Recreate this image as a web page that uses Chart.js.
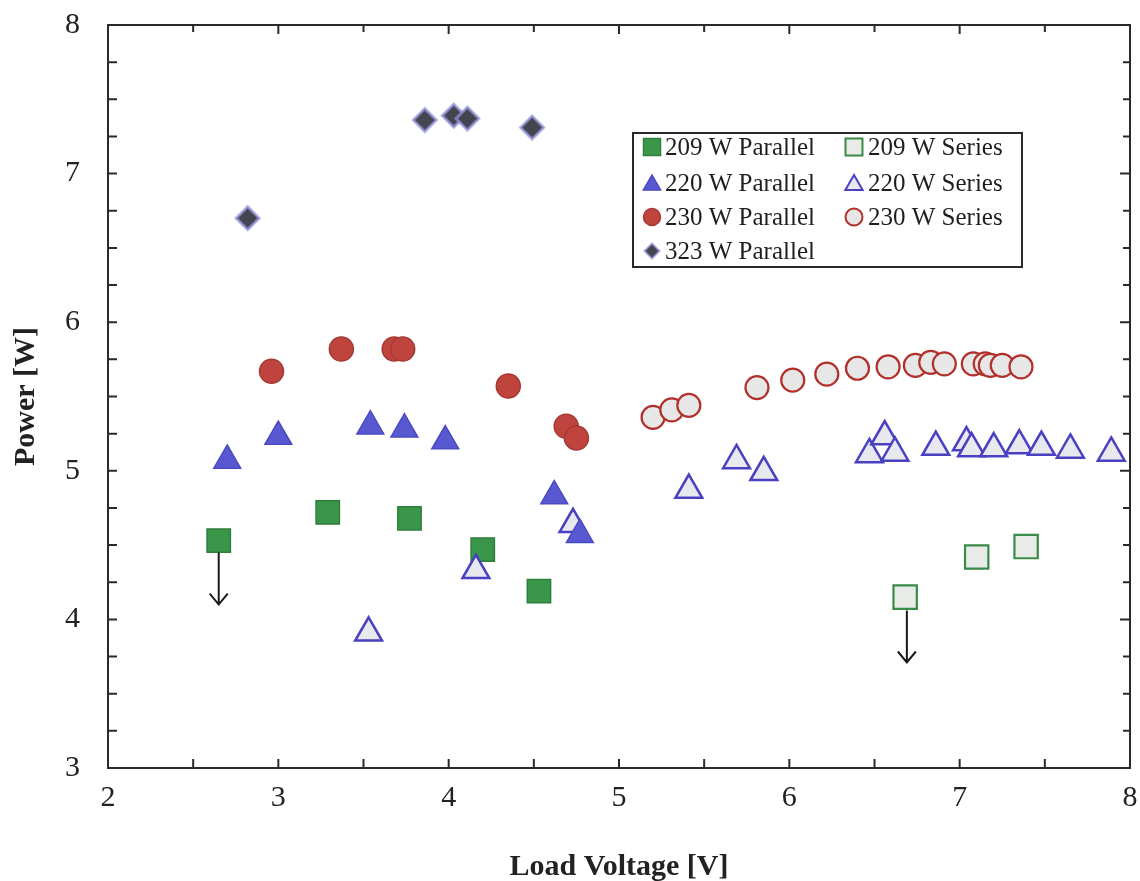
<!DOCTYPE html>
<html>
<head>
<meta charset="utf-8">
<script src="https://cdn.jsdelivr.net/npm/chart.js@4.4.1/dist/chart.umd.min.js"></script>
<style>
  html, body { margin: 0; padding: 0; background: #ffffff; }
  #wrap { width: 1140px; height: 881px; }
</style>
</head>
<body>
<div id="wrap"><canvas id="c" width="1140" height="881"></canvas></div>
<script>
// ---- data ----
const p209ParallelV = [2.65, 3.29, 3.77, 4.20, 4.53];
const p209ParallelP = [4.53, 4.72, 4.68, 4.47, 4.19];

const p209SeriesV = [6.68, 7.10, 7.39];
const p209SeriesP = [4.15, 4.42, 4.49];

const p220ParallelV = [2.70, 3.00, 3.54, 3.74, 3.98, 4.62, 4.77];
const p220ParallelP = [5.07, 5.23, 5.30, 5.28, 5.20, 4.83, 4.57];

const p220SeriesV = [3.53, 4.16, 4.73, 5.41, 5.69, 5.85, 6.47, 6.56, 6.62, 6.86, 7.04, 7.07, 7.20, 7.35, 7.48, 7.65, 7.89];
const p220SeriesP = [3.91, 4.33, 4.64, 4.87, 5.07, 4.99, 5.11, 5.23, 5.12, 5.16, 5.19, 5.15, 5.15, 5.17, 5.16, 5.14, 5.12];

const p230ParallelV = [2.96, 3.37, 3.68, 3.73, 4.35, 4.69, 4.75];
const p230ParallelP = [5.67, 5.82, 5.82, 5.82, 5.57, 5.30, 5.22];

const p230SeriesV = [5.20, 5.31, 5.41, 5.81, 6.02, 6.22, 6.40, 6.58, 6.74, 6.83, 6.91, 7.08, 7.15, 7.18, 7.25, 7.36];
const p230SeriesP = [5.36, 5.41, 5.44, 5.56, 5.61, 5.65, 5.69, 5.70, 5.71, 5.73, 5.72, 5.72, 5.72, 5.71, 5.71, 5.70];

const p323ParallelV = [2.82, 3.86, 4.03, 4.11, 4.49];
const p323ParallelP = [6.70, 7.36, 7.39, 7.37, 7.31];

// upper-limit arrows (value space): x, from, to
const arrowX = [2.65, 6.69];
const arrowFrom = [4.45, 4.06];
const arrowTo = [4.10, 3.71];

const xTickValues = [2, 3, 4, 5, 6, 7, 8];
const yTickValues = [3, 4, 5, 6, 7, 8];
const xTitle = 'Load Voltage [V]';
const yTitle = 'Power [W]';

const labels = ['209 W Parallel', '209 W Series', '220 W Parallel', '220 W Series',
                '230 W Parallel', '230 W Series', '323 W Parallel'];

function pts(xs, ys) { return xs.map((x, i) => ({ x: x, y: ys[i] })); }

const SERIF = '"Liberation Serif", "DejaVu Serif", serif';

const datasets = [
  { label: labels[6], data: pts(p323ParallelV, p323ParallelP), pointStyle: 'rectRot', pointRadius: 11.5,
    backgroundColor: '#45454f', borderColor: 'rgba(150,150,225,0.7)', borderWidth: 3, legR: 7.5 },
  { label: labels[4], data: pts(p230ParallelV, p230ParallelP), pointStyle: 'circle', pointRadius: 12,
    backgroundColor: '#c0443e', borderColor: '#a63934', borderWidth: 1.5, legR: 8.5 },
  { label: labels[5], data: pts(p230SeriesV, p230SeriesP), pointStyle: 'circle', pointRadius: 11.5,
    backgroundColor: '#e7e7e7', borderColor: '#b2302b', borderWidth: 2.2, legR: 8.5 },
  { label: labels[2], data: pts(p220ParallelV, p220ParallelP), pointStyle: 'triangle', pointRadius: 15.5,
    backgroundColor: '#5858d0', borderColor: '#4a4ac4', borderWidth: 1.5, legR: 10 },
  { label: labels[3], data: pts(p220SeriesV, p220SeriesP), pointStyle: 'triangle', pointRadius: 15.5,
    backgroundColor: '#e8e8ee', borderColor: '#4a40c2', borderWidth: 2.5, legR: 10 },
  { label: labels[0], data: pts(p209ParallelV, p209ParallelP), pointStyle: 'rect', pointRadius: 16.5,
    backgroundColor: '#3a9649', borderColor: '#2e7f3c', borderWidth: 1.5, legR: 12 },
  { label: labels[1], data: pts(p209SeriesV, p209SeriesP), pointStyle: 'rect', pointRadius: 16.5,
    backgroundColor: '#e8ebe8', borderColor: '#3a8a48', borderWidth: 2.2, legR: 12 }
];
datasets.forEach(d => { d.showLine = false; d.pointHoverRadius = d.pointRadius; });

// legend grid: [label, column, row]
const legendGrid = [
  [labels[0], 0, 0], [labels[1], 1, 0],
  [labels[2], 0, 1], [labels[3], 1, 1],
  [labels[4], 0, 2], [labels[5], 1, 2],
  [labels[6], 0, 3]
];

const framePlugin = {
  id: 'framePlugin',
  afterDatasetsDraw(chart) {
    const ctx = chart.ctx;
    const a = chart.chartArea;
    const xs = chart.scales.x, ys = chart.scales.y;
    ctx.save();
    ctx.strokeStyle = '#2a2a2a';
    ctx.lineWidth = 2;
    ctx.strokeRect(a.left, a.top, a.right - a.left, a.bottom - a.top);
    ctx.lineWidth = 2;
    // x ticks every 0.5 (bottom and top)
    for (let v = xs.min + 0.5; v < xs.max - 1e-6; v += 0.5) {
      const px = xs.getPixelForValue(v);
      const major = Math.abs(v - Math.round(v)) < 1e-6;
      ctx.beginPath();
      ctx.moveTo(px, a.bottom); ctx.lineTo(px, a.bottom - 9);
      ctx.moveTo(px, a.top); ctx.lineTo(px, a.top + (major ? 9 : 7));
      ctx.stroke();
    }
    // y ticks every 0.25 (left and right)
    for (let v = ys.min + 0.25; v < ys.max - 1e-6; v += 0.25) {
      const py = ys.getPixelForValue(v);
      const major = Math.abs(v - Math.round(v)) < 1e-6;
      ctx.beginPath();
      ctx.moveTo(a.left, py); ctx.lineTo(a.left + 9, py);
      ctx.moveTo(a.right, py); ctx.lineTo(a.right - (major ? 10 : 7), py);
      ctx.stroke();
    }
    // arrows
    ctx.strokeStyle = '#1a1a1a';
    ctx.lineWidth = 2;
    arrowX.forEach((x, i) => {
      const px = xs.getPixelForValue(x);
      const p0 = ys.getPixelForValue(arrowFrom[i]);
      const p1 = ys.getPixelForValue(arrowTo[i]);
      ctx.beginPath();
      ctx.moveTo(px, p0); ctx.lineTo(px, p1);
      ctx.moveTo(px - 9, p1 - 11); ctx.lineTo(px, p1); ctx.lineTo(px + 9, p1 - 11);
      ctx.stroke();
    });
    // legend
    const box = { x: 633, y: 133, w: 389, h: 134 };
    ctx.fillStyle = '#ffffff';
    ctx.fillRect(box.x, box.y, box.w, box.h);
    ctx.strokeStyle = '#2a2a2a';
    ctx.lineWidth = 2;
    ctx.strokeRect(box.x, box.y, box.w, box.h);
    const colMarker = [652, 854];
    const colText = [665, 868];
    const rowY = [147, 183, 217, 251];
    ctx.font = '25px ' + SERIF;
    ctx.textBaseline = 'middle';
    ctx.textAlign = 'left';
    legendGrid.forEach(([lab, c, r]) => {
      const d = chart.data.datasets.find(ds => ds.label === lab);
      ctx.fillStyle = d.backgroundColor;
      ctx.strokeStyle = d.borderColor;
      ctx.lineWidth = Math.min(d.borderWidth, 2);
      Chart.helpers.drawPoint(ctx, { pointStyle: d.pointStyle, radius: d.legR, rotation: 0, borderWidth: Math.min(d.borderWidth, 2) },
        colMarker[c], rowY[r] + (d.pointStyle === 'triangle' ? 2 : 0));
      ctx.fillStyle = '#1e1e1e';
      ctx.fillText(lab, colText[c], rowY[r] + 1);
    });
    ctx.restore();
  }
};

new Chart(document.getElementById('c'), {
  type: 'scatter',
  data: { datasets: datasets },
  plugins: [framePlugin],
  options: {
    responsive: false,
    animation: false,
    layout: { autoPadding: false, padding: { top: 25, right: 10, left: 0, bottom: 0 } },
    plugins: { legend: { display: false }, tooltip: { enabled: false } },
    scales: {
      x: {
        type: 'linear', min: 2, max: 8,
        afterBuildTicks: s => { s.ticks = xTickValues.map(v => ({ value: v })); },
        ticks: { color: '#222', font: { family: SERIF, size: 30 }, padding: 12 },
        grid: { display: false, drawTicks: false },
        border: { display: false },
        title: { display: true, text: xTitle, color: '#222', font: { family: SERIF, size: 30, weight: 'bold' },
                 padding: { top: 0, bottom: -4 } },
        afterFit: s => { s.height = 113; s.paddingLeft = 0; s.paddingRight = 0; }
      },
      y: {
        type: 'linear', min: 3, max: 8,
        afterBuildTicks: s => { s.ticks = yTickValues.map(v => ({ value: v })); },
        ticks: { color: '#222', font: { family: SERIF, size: 30 }, padding: 28 },
        grid: { display: false, drawTicks: false },
        border: { display: false },
        title: { display: true, text: yTitle, color: '#222', font: { family: SERIF, size: 30, weight: 'bold' },
                 padding: { top: 8, bottom: 0 } },
        afterFit: s => { s.width = 108; s.paddingTop = 0; s.paddingBottom = 0; }
      }
    }
  }
});
</script>
</body>
</html>
